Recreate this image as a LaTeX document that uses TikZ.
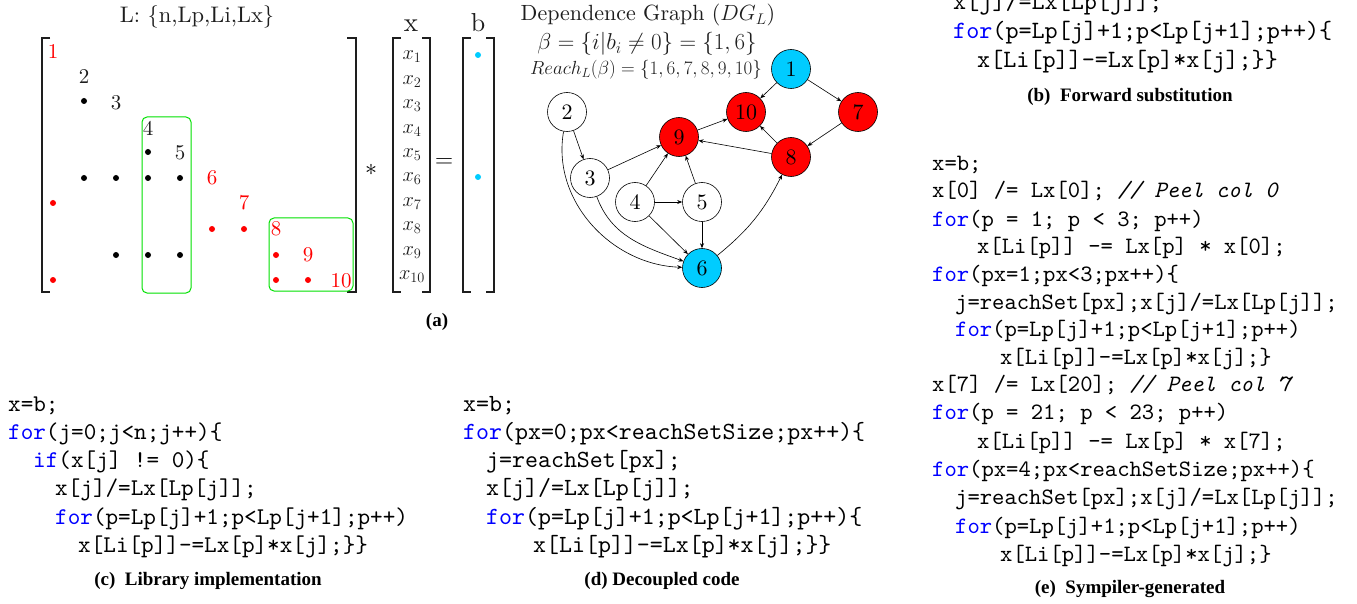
\RequirePackage{fix-cm}
\documentclass[tikz,border=0pt]{standalone}
\usepackage{fontspec}
\setmainfont{lmroman10}[Extension=.otf,UprightFont=*-regular,BoldFont=*-bold,ItalicFont=*-italic,BoldItalicFont=*-bolditalic]
\setmonofont{lmmono10}[Extension=.otf,UprightFont=*-regular,ItalicFont=*-italic]
\newfontfamily\capfont{Liberation Serif}
\usetikzlibrary{arrows.meta}
\definecolor{nred}{RGB}{255,0,0}
\definecolor{ncyan}{RGB}{0,204,255}
\definecolor{boxgreen}{RGB}{0,225,0}
\definecolor{kwblue}{RGB}{0,0,255}
\definecolor{ink}{RGB}{30,30,30}
\newcommand\kw[1]{\textcolor{kwblue}{#1}}
\newcommand\cmt[1]{{\itshape #1}}
\begin{document}
\begin{tikzpicture}[x=1pt,y=-1pt,
  codec/.style={anchor=base west,inner sep=0,font=\ttfamily\fontsize{24}{28}\selectfont},
  coded/.style={anchor=base west,inner sep=0,font=\ttfamily\fontsize{24.7}{28}\selectfont},
  codee/.style={anchor=base west,inner sep=0,font=\ttfamily\fontsize{23.5}{28}\selectfont},
  codeb/.style={anchor=base west,inner sep=0,font=\ttfamily\fontsize{24.9}{28}\selectfont},
  capt/.style={anchor=base,inner sep=0,font=\capfont\bfseries\fontsize{19}{21}\selectfont},
  mnum/.style={inner sep=0,font=\fontsize{21}{21}\selectfont},
  rnum/.style={mnum,text=nred},
  bnum/.style={mnum,text=ink},
  dotb/.style={fill=black},
  dotr/.style={fill=nred},
  brk/.style={line width=1.1pt,draw=ink},
  gbox/.style={draw=boxgreen,line width=1pt,rounded corners=5pt},
  gnode/.style={circle,draw=black,line width=0.6pt,minimum size=39pt,inner sep=0,font=\fontsize{22}{22}\selectfont},
  wn/.style={gnode,fill=white},
  rn/.style={gnode,fill=nred},
  cn/.style={gnode,fill=ncyan},
  ed/.style={-{Stealth[length=5pt,width=4pt]},line width=0.6pt},
  lbl/.style={inner sep=0,anchor=base,text=ink}
]
\useasboundingbox (0,0) rectangle (1357,604);

% ---------------- (a) matrix ----------------
\node[lbl,font=\fontsize{22.5}{23}\selectfont] (Ltitle) at (197,23) {L: \{n,Lp,Li,Lx\}};
\draw[brk] (50,38) -- (42,38) -- (42,292) -- (50,292);
\draw[brk] (347,38) -- (356,38) -- (356,292) -- (347,292);
\draw[gbox] (142,117) rectangle (191,293);
\draw[gbox] (269,218) rectangle (353,291);
\node[rnum] (m1) at (53,52) {1};
\node[bnum] (m2) at (84,77) {2};
\node[bnum] (m3) at (116,103) {3};
\node[bnum] (m4) at (148,128) {4};
\node[bnum] (m5) at (180,153) {5};
\node[rnum] (m6) at (212,178) {6};
\node[rnum] (m7) at (244,203) {7};
\node[rnum] (m8) at (276,229) {8};
\node[rnum] (m9) at (308,255) {9};
\node[rnum] (m10) at (341,281) {10};
\foreach \px/\py in {84/101,148/152,84/178,116/178,148/178,180/178,116/255,148/255,180/255}
  \fill[dotb] (\px,\py) circle[radius=3pt];
\foreach \px/\py in {53/203,212/229,244/229,276/255,53/280,276/280,308/280}
  \fill[dotr] (\px,\py) circle[radius=3pt];
\node[inner sep=0,font=\fontsize{24}{24}\selectfont] (star) at (371,170) {$*$};

% x vector
\node[lbl,font=\fontsize{27}{27}\selectfont] (xlab) at (411,32) {x};
\draw[brk] (401,38) -- (393,38) -- (393,292) -- (401,292);
\draw[brk] (422,38) -- (430,38) -- (430,292) -- (422,292);
\foreach \i in {1,...,10}
  \node[inner sep=0,font=\fontsize{20.5}{21}\selectfont,text=ink] (x\i) at (412,{57+(\i-1)*24.4}) {$x_{\i}$};
\node[inner sep=0,font=\fontsize{25}{25}\selectfont] (eq) at (444,163) {$=$};
% b vector
\node[lbl,font=\fontsize{26}{26}\selectfont] (blab) at (478,32) {b};
\draw[brk] (471,38) -- (463,38) -- (463,292) -- (471,292);
\draw[brk] (486,38) -- (494,38) -- (494,292) -- (486,292);
\fill[ncyan] (478,55) circle[radius=3pt];
\fill[ncyan] (478,177) circle[radius=3pt];

% ---------------- dependence graph ----------------
\node[lbl,font=\fontsize{22}{22}\selectfont] (dgt) at (648,21) {Dependence Graph ($DG_L$)};
\node[lbl,font=\fontsize{23}{24}\selectfont] (beta) at (647,50) {$\beta=\{i|b_i\neq0\}=\{1,6\}$};
\node[lbl,font=\fontsize{19}{20}\selectfont] (reach) at (646,75) {$Reach_L(\beta)=\{1,6,7,8,9,10\}$};

\node[cn] (n1) at (791,69) {1};
\node[rn] (n10) at (746,112) {10};
\node[rn] (n7) at (858,112) {7};
\node[wn] (n2) at (567,112) {2};
\node[rn] (n9) at (679,137) {9};
\node[rn] (n8) at (791,157) {8};
\node[wn] (n3) at (590,178) {3};
\node[wn] (n4) at (635,202) {4};
\node[wn] (n5) at (702,202) {5};
\node[cn] (n6) at (702,268) {6};

\draw[ed] (n1) -- (n10);
\draw[ed] (n1) -- (n7);
\draw[ed] (n7) -- (n8);
\draw[ed] (n8) -- (n10);
\draw[ed] (n8) -- (n9);
\draw[ed] (n9) -- (n10);
\draw[ed] (n2) -- (n3);
\draw[ed] (n3) -- (n9);
\draw[ed] (n4) -- (n9);
\draw[ed] (n5) -- (n9);
\draw[ed] (n4) -- (n5);
\draw[ed] (n4) -- (n6);
\draw[ed] (n5) -- (n6);
\draw[ed] (n6) to[bend right=12] (n8);
\draw[ed] (n3) to[out=-70,in=160] (n6);
\draw[ed] (n2) to[out=-100,in=178] (n6);

\node[capt] (capa) at (437,326) {(a)};

% ---------------- (b) ----------------
\begin{scope}
\clip (900,0) rectangle (1357,604);
\node[codeb] (b1) at (953,10) {x[j]/=Lx[Lp[j]];};
\node[codeb] (b2) at (953,39) {\kw{for}(p=Lp[j]+1;p<Lp[j+1];p++)\{};
\node[codeb] (b3) at (977,68) {x[Li[p]]-=Lx[p]*x[j];\}\}};
\end{scope}
\node[capt] (capb) at (1130,102) {(b)\hspace{0.5em}Forward substitution};

% ---------------- (c) ----------------
\node[codec] (c1) at (8,411) {x=b;};
\node[codec] (c2) at (8,439) {\kw{for}(j=0;j<n;j++)\{};
\node[codec] (c3) at (33,467) {\kw{if}(x[j] != 0)\{};
\node[codec] (c4) at (55,495) {x[j]/=Lx[Lp[j]];};
\node[codec] (c5) at (55,524) {\kw{for}(p=Lp[j]+1;p<Lp[j+1];p++)};
\node[codec] (c6) at (78,552) {x[Li[p]]-=Lx[p]*x[j];\}\}};
\node[capt] (capc) at (208,585) {(c)\hspace{0.5em}Library implementation};

% ---------------- (d) ----------------
\node[coded] (d1) at (463,411) {x=b;};
\node[coded] (d2) at (463,439) {\kw{for}(px=0;px<reachSetSize;px++)\{};
\node[coded] (d3) at (486,467) {j=reachSet[px];};
\node[coded] (d4) at (486,495) {x[j]/=Lx[Lp[j]];};
\node[coded] (d5) at (486,524) {\kw{for}(p=Lp[j]+1;p<Lp[j+1];p++)\{};
\node[coded] (d6) at (533,552) {x[Li[p]]-=Lx[p]*x[j];\}\}};
\node[capt] (capd) at (662,585) {(d) Decoupled code};

% ---------------- (e) ----------------
\begin{scope}
\clip (900,0) rectangle (1333,604);
\node[codee] (e1) at (932,171) {x=b;};
\node[codee] (e2) at (932,198) {x[0] /= Lx[0]; \cmt{// Peel col 0}};
\node[codee] (e3) at (932,226) {\kw{for}(p = 1; p < 3; p++)};
\node[codee] (e4) at (977,253) {x[Li[p]] -= Lx[p] * x[0];};
\node[codee] (e5) at (932,281) {\kw{for}(px=1;px<3;px++)\{};
\node[codee] (e6) at (955,309) {j=reachSet[px];x[j]/=Lx[Lp[j]];};
\node[codee] (e7) at (955,336) {\kw{for}(p=Lp[j]+1;p<Lp[j+1];p++)};
\node[codee] (e8) at (1000,364) {x[Li[p]]-=Lx[p]*x[j];\}};
\node[codee] (e9) at (932,391) {x[7] /= Lx[20]; \cmt{// Peel col 7}};
\node[codee] (e10) at (932,419) {\kw{for}(p = 21; p < 23; p++)};
\node[codee] (e11) at (977,448) {x[Li[p]] -= Lx[p] * x[7];};
\node[codee] (e12) at (932,476) {\kw{for}(px=4;px<reachSetSize;px++)\{};
\node[codee] (e13) at (955,504) {j=reachSet[px];x[j]/=Lx[Lp[j]];};
\node[codee] (e14) at (955,533) {\kw{for}(p=Lp[j]+1;p<Lp[j+1];p++)};
\node[codee] (e15) at (1000,561) {x[Li[p]]-=Lx[p]*x[j];\}};
\end{scope}
\node[capt] (cape) at (1130,593) {(e)\hspace{0.5em}Sympiler-generated};
\end{tikzpicture}
\end{document}
